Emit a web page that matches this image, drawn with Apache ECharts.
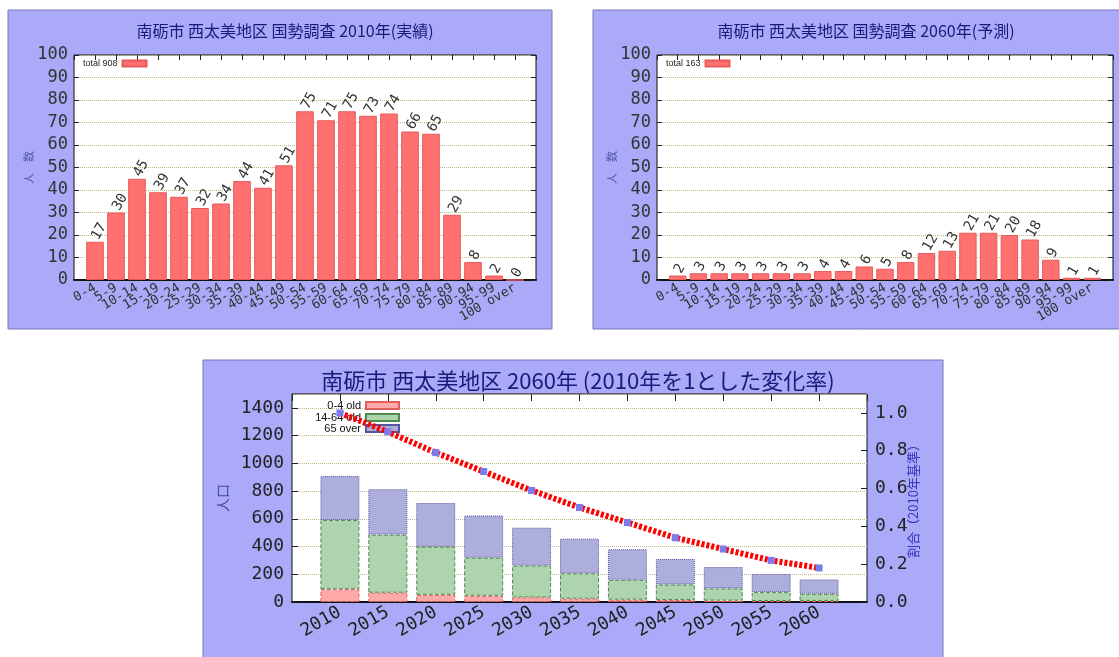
<!DOCTYPE html>
<html>
<head>
<meta charset="utf-8">
<script src="https://cdn.jsdelivr.net/npm/echarts/dist/echarts.min.js"></script>
<style>
  html, body { margin: 0; padding: 0; background: #fff; }
  #main { width: 1119px; height: 657px; }
</style>
</head>
<body>
<div id="main"></div>
<script>
// 年齢階級
const ageGroups = ['0-4','5-9','10-14','15-19','20-24','25-29','30-34','35-39','40-44','45-49',
  '50-54','55-59','60-64','65-69','70-74','75-79','80-84','85-89','90-94','95-99','100 over'];
// 2010年 実績
const pop2010 = [17,30,45,39,37,32,34,44,41,51,75,71,75,73,74,66,65,29,8,2,0];
// 2060年 予測
const pop2060 = [2,3,3,3,3,3,3,4,4,6,5,8,12,13,21,21,20,18,9,1,1];

// 推移
const years = ['2010','2015','2020','2025','2030','2035','2040','2045','2050','2055','2060'];
const young = [92,67,52,45,33,24,17,14,10,7,8];
const working = [499,419,346,274,229,183,143,112,88,64,51];
const elderly = [317,328,316,305,274,250,221,184,154,131,104];
const ratio = [1.0,0.90,0.79,0.69,0.59,0.50,0.42,0.34,0.28,0.22,0.18];

const MONO = "'DejaVu Sans Mono', monospace";
const JP = "'Noto Sans CJK JP', sans-serif";
const PANEL = '#aaaaf8';
const GRIDLINE = { show: true, lineStyle: { type: 'dotted', color: '#bcbc80', width: 1 } };

const chart = echarts.init(document.getElementById('main'));

// 軸の両端に1目盛ずつ余白を入れる（gnuplotの xrange と同じ見た目にする）
const padCat = (arr) => ['', ...arr, ''];
const padVal = (arr) => [null, ...arr, null];

// 上辺の目盛だけの軸（onZero を切らないと下辺に移ってしまう）
function topTicks(gridIndex, cats, len) {
  return {
    type: 'category', gridIndex, data: padCat(cats), boundaryGap: false, position: 'top',
    axisLine: { show: false, onZero: false },
    splitLine: { show: false },
    axisTick: { show: true, inside: true, length: len, interval: 0, lineStyle: { color: '#222' } },
    axisLabel: { show: false }
  };
}

function topX(gridIndex) {
  return [
    {
      type: 'category', gridIndex, data: padCat(ageGroups), boundaryGap: false,
      axisLine: { show: true, onZero: false, lineStyle: { color: '#111', width: 2 } },
      axisTick: { show: false },
      splitLine: { show: false },
      axisLabel: { rotate: 30, interval: 0, fontFamily: MONO, fontSize: 13, color: '#333', margin: 7 }
    },
    topTicks(gridIndex, ageGroups, 5)
  ];
}

function topY(gridIndex) {
  return [
    {
      type: 'value', gridIndex, min: 0, max: 100, interval: 10,
      name: '人　数', nameLocation: 'middle', nameRotate: 90, nameGap: 40, nameMoveOverlap: false,
      nameTextStyle: { fontFamily: JP, fontSize: 11, color: '#5555aa' },
      axisLine: { show: false },
      axisTick: { show: true, inside: true, length: 5, lineStyle: { color: '#222' } },
      axisLabel: { fontFamily: MONO, fontSize: 17, color: '#333', margin: 6 },
      splitLine: GRIDLINE
    },
    {
      type: 'value', gridIndex, min: 0, max: 100, interval: 10, position: 'right',
      axisLine: { show: false },
      axisTick: { show: true, inside: true, length: 5, lineStyle: { color: '#222' } },
      axisLabel: { show: false }, splitLine: { show: false }
    }
  ];
}

function ageBar(name, data, xIdx, yIdx) {
  return {
    name, type: 'bar', xAxisIndex: xIdx, yAxisIndex: yIdx,
    data: padVal(data), barWidth: '84%',
    itemStyle: { color: '#ff7070', borderColor: '#e85a5a', borderWidth: 1 },
    label: {
      show: true, position: 'top', rotate: 60, align: 'left', verticalAlign: 'middle', distance: 3,
      fontFamily: MONO, fontSize: 14, color: '#333'
    }
  };
}

const smallLegend = (name, left) => ({
  data: [name], left, top: 58, align: 'right', icon: 'rect', itemWidth: 24, itemHeight: 6, itemGap: 4, padding: 1,
  textStyle: { fontFamily: "'Liberation Sans Narrow', 'Liberation Sans'", fontSize: 9, color: '#222' }
});
const popLegend = (name, top) => ({
  data: [name], right: 718, top, align: 'right', icon: 'rect', itemWidth: 33, itemHeight: 7, padding: 1,
  textStyle: { fontFamily: "'Liberation Sans'", fontSize: 11, color: '#111' }
});

const tl = topY(0), tr = topY(1);

const option = {
  animation: false,
  backgroundColor: '#fff',
  graphic: [
    { type: 'rect', shape: { x: 8, y: 10, width: 544, height: 319 }, style: { fill: PANEL, stroke: '#7777bb', lineWidth: 1 }, z: -10 },
    { type: 'rect', shape: { x: 593, y: 10, width: 530, height: 319 }, style: { fill: PANEL, stroke: '#7777bb', lineWidth: 1 }, z: -10 },
    { type: 'rect', shape: { x: 203, y: 360, width: 740, height: 300 }, style: { fill: PANEL, stroke: '#7777bb', lineWidth: 1 }, z: -10 }
  ],
  title: [
    { text: '南砺市 西太美地区 国勢調査 2010年(実績)', left: 280, top: 18, textAlign: 'center',
      textStyle: { fontFamily: JP, fontSize: 16, fontWeight: 'normal', color: '#1a1a7a' } },
    { text: '南砺市 西太美地区 国勢調査 2060年(予測)', left: 861, top: 18, textAlign: 'center',
      textStyle: { fontFamily: JP, fontSize: 16, fontWeight: 'normal', color: '#1a1a7a' } },
    { text: '南砺市 西太美地区 2060年 (2010年を1とした変化率)', left: 573, top: 365, textAlign: 'center',
      textStyle: { fontFamily: JP, fontSize: 22, fontWeight: 'normal', color: '#1a1a7a' } }
  ],
  legend: [
    smallLegend('total 908', 82),
    smallLegend('total 163', 665),
    popLegend('0-4 old', 399),
    popLegend('14-64 old', 411),
    popLegend('65 over', 422)
  ],
  grid: [
    { left: 74, top: 55, width: 462, height: 225, show: true, backgroundColor: '#fff', borderColor: '#111', borderWidth: 1 },
    { left: 657, top: 55, width: 456, height: 225, show: true, backgroundColor: '#fff', borderColor: '#111', borderWidth: 1 },
    { left: 292, top: 394, width: 575, height: 208, show: true, backgroundColor: '#fff', borderColor: '#111', borderWidth: 1 }
  ],
  xAxis: [
    ...topX(0), ...topX(1),
    {
      type: 'category', gridIndex: 2, data: padCat(years), boundaryGap: false,
      axisLine: { show: true, onZero: false, lineStyle: { color: '#111', width: 2 } },
      axisTick: { show: false },
      splitLine: { show: false },
      axisLabel: { rotate: 30, interval: 0, fontFamily: MONO, fontSize: 18, color: '#222', margin: 9 }
    },
    topTicks(2, years, 7)
  ],
  yAxis: [
    tl[0], tr[0],
    {
      type: 'value', gridIndex: 2, min: 0, max: 1500, interval: 200,
      name: '人口', nameLocation: 'middle', nameRotate: 90, nameGap: 62, nameMoveOverlap: false,
      nameTextStyle: { fontFamily: JP, fontSize: 14, color: '#4444aa' },
      axisLine: { show: false },
      axisTick: { show: true, inside: true, length: 6, lineStyle: { color: '#222' } },
      axisLabel: { fontFamily: MONO, fontSize: 18, color: '#222', margin: 8, showMaxLabel: false,
        formatter: (v) => String(v) },
      splitLine: GRIDLINE
    },
    {
      type: 'value', gridIndex: 2, min: 0, max: 1.1, interval: 0.2, position: 'right',
      name: '割合（2010年基準）', nameLocation: 'middle', nameRotate: 90, nameGap: 40, nameMoveOverlap: false,
      nameTextStyle: { fontFamily: JP, fontSize: 13, color: '#3333bb' },
      axisLine: { show: false },
      axisTick: { show: true, inside: true, length: 6, lineStyle: { color: '#222' } },
      axisLabel: { fontFamily: MONO, fontSize: 18, color: '#222', margin: 8, showMaxLabel: false,
        formatter: (v) => v.toFixed(1) },
      splitLine: { show: false }
    },
    { ...tl[1] }, { ...tr[1] }
  ],
  series: [
    ageBar('total 908', pop2010, 0, 0),
    ageBar('total 163', pop2060, 2, 1),
    {
      name: '0-4 old', type: 'bar', stack: 'pop', xAxisIndex: 4, yAxisIndex: 2, barWidth: 39,
      data: padVal(young),
      itemStyle: { color: '#ffaaaa', borderColor: '#e06060', borderWidth: 1, borderType: 'dashed' }
    },
    {
      name: '14-64 old', type: 'bar', stack: 'pop', xAxisIndex: 4, yAxisIndex: 2, barWidth: 39,
      data: padVal(working),
      itemStyle: { color: '#aed4ae', borderColor: '#4f8a4f', borderWidth: 1, borderType: 'dashed' }
    },
    {
      name: '65 over', type: 'bar', stack: 'pop', xAxisIndex: 4, yAxisIndex: 2, barWidth: 39,
      data: padVal(elderly),
      itemStyle: { color: '#aeaedc', borderColor: '#5555a0', borderWidth: 1, borderType: 'dotted' }
    },
    {
      name: '変化率', type: 'line', xAxisIndex: 4, yAxisIndex: 3,
      data: padVal(ratio), z: 5,
      lineStyle: { color: '#ff0000', width: 6, type: [3, 2] },
      symbol: 'rect', symbolSize: 7, showSymbol: true,
      itemStyle: { color: '#7b7bef' }
    }
  ]
};

// 右側の目盛（上段）
option.yAxis[4].gridIndex = 0;
option.yAxis[5].gridIndex = 1;

chart.setOption(option);
</script>
</body>
</html>
